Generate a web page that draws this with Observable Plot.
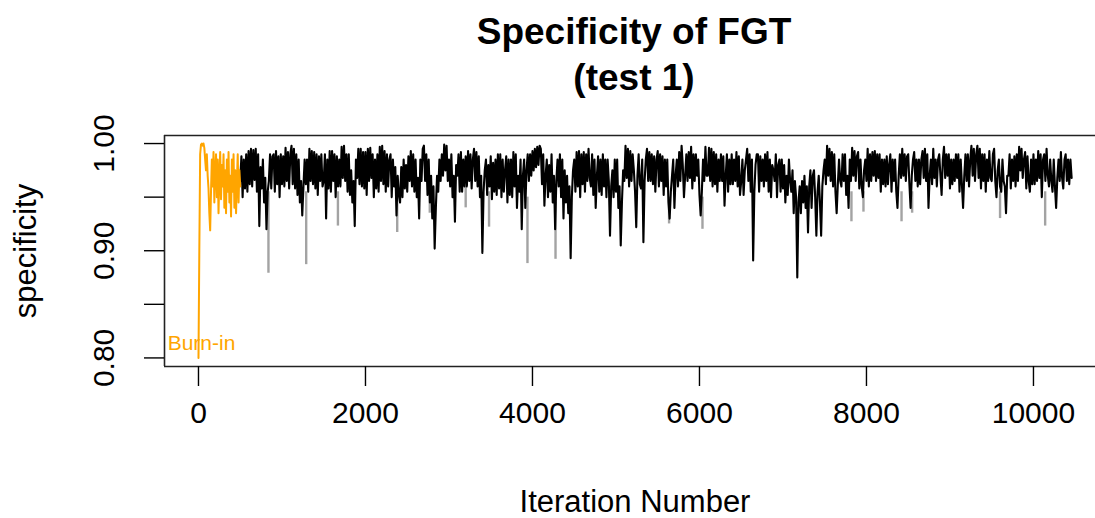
<!DOCTYPE html>
<html><head><meta charset="utf-8">
<script src="https://cdn.jsdelivr.net/npm/d3@7"></script>
<script src="https://cdn.jsdelivr.net/npm/@observablehq/plot@0.6"></script>
<style>html,body{margin:0;padding:0;background:#fff;overflow:hidden}</style>
</head><body><div id="chart"></div>
<script>
// ---- text ----
const titleLines = ["Specificity of FGT", "(test 1)"];
const xLabel = "Iteration Number";
const yLabel = "specificity";
const burnLabel = "Burn-in";
const burnLabelPos = {iter: 0, value: 0.8136};

// ---- axes ----
const xDomain = [-407, 10743];
const yDomain = [0.792, 1.0075];
const xTicks = [0, 2000, 4000, 6000, 8000, 10000];
const yTicks = [0.80, 0.85, 0.90, 0.95, 1.00];
const yLabelTicks = [0.80, 0.90, 1.00];

// ---- burn-in trace (iterations 0..500, every 10) ----
const burnStep = 10;
const burnValues = [
 .800,.900,.990,.999,1.000,.998,1.000,.996,.985,.975,
 .990,.970,.958,.935,.919,.955,.985,.960,.992,.945,
 .975,.990,.950,.985,.935,.970,.992,.948,.980,.960,
 .990,.940,.975,.935,.985,.955,.992,.945,.970,.932,
 .985,.955,.990,.940,.975,.935,.965,.990,.945,.975,.960
];

// ---- main trace (from iteration 500, thinned: 14 values per 200 iterations) ----
const traceStart = 500;
const traceStep = 200 / 14;
const traceValues = [
 .965,.988,.950,.985,.958,.990,.955,.993,.962,.995,.960,.994,.966,.995,
 .955,.990,.923,.978,.958,.985,.945,.968,.920,.955,.965,.990,.958,.988,
 .990,.955,.993,.962,.988,.950,.990,.962,.988,.960,.996,.965,.992,.958,
 .990,.998,.962,.995,.958,.990,.952,.985,.945,.965,.933,.960,.985,.962,
 .985,.955,.995,.965,.993,.962,.992,.958,.990,.952,.988,.965,.990,.960,
 .965,.990,.930,.985,.958,.993,.955,.993,.965,.990,.950,.988,.960,.985,
 .960,.997,.968,.998,.965,.990,.955,.990,.952,.975,.945,.965,.923,.985,
 .968,.995,.962,.995,.960,.992,.958,.992,.952,.995,.965,.996,.968,.990,
 .950,.985,.958,.990,.955,.997,.965,.998,.962,.993,.955,.990,.960,.985,
 .990,.950,.985,.960,.978,.933,.970,.952,.945,.978,.950,.985,.958,.980,
 .955,.988,.965,.993,.960,.990,.955,.985,.950,.968,.930,.985,.965,.995,
 .998,.965,.990,.952,.985,.945,.970,.930,.960,.902,.940,.970,.955,.985,
 .965,.990,.970,.999,.975,.998,.965,.985,.960,.990,.950,.970,.927,.980,
 .970,.990,.955,.992,.955,.985,.960,.988,.960,.993,.965,.990,.958,.985,
 .995,.965,.992,.960,.988,.950,.970,.898,.955,.975,.985,.952,.980,.960,
 .988,.948,.982,.955,.985,.952,.990,.958,.990,.950,.985,.955,.975,.988,
 .945,.985,.952,.985,.950,.992,.960,.990,.940,.970,.955,.985,.920,.970,
 .985,.940,.975,.990,.965,.990,.970,.993,.975,.995,.978,.997,.980,.998,
 .995,.962,.990,.942,.970,.985,.950,.980,.955,.990,.945,.970,.920,.965,
 .985,.960,.990,.950,.985,.930,.975,.945,.970,.935,.960,.893,.950,.975,
 .985,.955,.992,.960,.993,.950,.990,.962,.992,.955,.990,.965,.995,.968,
 .960,.990,.952,.985,.940,.970,.988,.955,.985,.952,.990,.960,.985,.950,
 .985,.965,.914,.960,.975,.950,.985,.955,.985,.940,.960,.905,.945,.975,
 .965,.998,.968,.995,.960,.993,.965,.990,.975,.955,.922,.970,.990,.962,
 .958,.985,.908,.965,.985,.995,.965,.992,.965,.990,.962,.988,.955,.985,
 .993,.960,.990,.965,.988,.952,.985,.960,.985,.945,.930,.955,.970,.985,
 .940,.970,.985,.960,.992,.965,.998,.980,.950,.970,.990,.965,.992,.968,
 .997,.958,.990,.965,.990,.970,.985,.952,.933,.955,.985,.965,.997,.970,
 .970,.996,.965,.995,.960,.992,.962,.990,.955,.985,.965,.990,.965,.988,
 .942,.970,.990,.955,.985,.962,.990,.962,.985,.965,.992,.960,.988,.952,
 .965,.985,.952,.975,.985,.995,.965,.990,.955,.985,.891,.955,.980,.990,
 .990,.955,.988,.965,.985,.960,.990,.965,.992,.955,.985,.950,.980,.975,
 .965,.990,.950,.980,.985,.955,.985,.958,.980,.945,.970,.952,.985,.965,
 .955,.975,.935,.965,.950,.875,.945,.960,.935,.965,.945,.970,.940,.960,
 .917,.960,.975,.940,.970,.975,.950,.914,.955,.970,.945,.914,.960,.975,
 .985,.962,.998,.970,.995,.965,.992,.960,.990,.955,.935,.962,.985,.965,
 .960,.990,.965,.990,.952,.970,.940,.985,.965,.996,.970,.993,.965,.988,
 .992,.958,.985,.960,.950,.975,.985,.965,.995,.960,.990,.965,.992,.970,
 .993,.965,.990,.968,.990,.955,.985,.962,.985,.960,.988,.962,.980,.990,
 .955,.985,.965,.985,.955,.940,.970,.990,.968,.995,.970,.990,.965,.988,
 .990,.962,.940,.970,.985,.992,.965,.985,.960,.985,.962,.985,.993,.968,
 .995,.965,.990,.940,.970,.985,.962,.995,.968,.985,.960,.985,.990,.970,
 .952,.985,.997,.968,.990,.970,.990,.958,.985,.962,.985,.965,.990,.968,
 .990,.955,.985,.962,.940,.970,.990,.965,.990,.960,.985,.998,.970,.995,
 .965,.990,.998,.968,.995,.958,.990,.965,.990,.955,.985,.965,.993,.968,
 .965,.990,.995,.965,.950,.975,.985,.960,.955,.985,.965,.960,.935,.970,
 .970,.990,.958,.985,.965,.988,.960,.990,.965,.997,.975,.995,.968,.985,
 .992,.958,.988,.965,.955,.985,.962,.990,.962,.985,.965,.993,.968,.990,
 .950,.985,.990,.965,.995,.970,.960,.985,.965,.955,.985,.960,.940,.968,
 .985,.965,.992,.968,.958,.985,.990,.965,.985,.962,.985,.968
];

// ---- second (grey) trace: its visible excursions below the black band ----
const greyIter = [838, 1290, 1670, 2380, 2770, 3200, 3480, 3940, 4276, 5636, 6036, 7820, 7964, 8420, 8547, 9600, 10140];
const greyLow  = [.879, .887, .923, .917, .935, .940, .922, .888, .892, .925, .920, .927, .936, .927, .935, .930, .923];
const greyTop  = [.955, .955, .955, .950, .955, .960, .955, .950, .945, .950, .950, .955, .955, .955, .955, .955, .955];

// ---- build tables ----
const burn = burnValues.map((v, i) => ({iter: i * burnStep, value: v}));
const trace = traceValues.map((v, i) => ({iter: traceStart + i * traceStep, value: v}));
const grey = greyIter.map((it, i) => ({iter: it, low: greyLow[i], top: greyTop[i]}));

const FONT = "'Liberation Sans', Arial, Helvetica, sans-serif";

const chart = Plot.plot({
  width: 1095,
  height: 518,
  marginTop: 135,
  marginBottom: 152,
  marginLeft: 164,
  marginRight: 0,
  style: {fontFamily: FONT, fontSize: "30px", color: "#000", background: "#fff"},
  x: {domain: xDomain, label: null},
  y: {domain: yDomain, label: null},
  marks: [
    Plot.ruleX(grey, {x: "iter", y1: "low", y2: "top", stroke: "#a3a3a3", strokeWidth: 2.4}),
    Plot.line(trace, {x: "iter", y: "value", stroke: "#000", strokeWidth: 2.1}),
    Plot.line(burn, {x: "iter", y: "value", stroke: "#FFA500", strokeWidth: 2}),
    Plot.text([burnLabel], {x: () => burnLabelPos.iter, y: () => burnLabelPos.value, text: d => d,
      fill: "#FFA500", fontSize: 21, textAnchor: "middle", lineAnchor: "middle", dx: 3}),
    // box (top, left, bottom)
    Plot.ruleY([yDomain[1]], {stroke: "#222", strokeWidth: 1.6}),
    Plot.ruleY([yDomain[0]], {stroke: "#222", strokeWidth: 1.6}),
    Plot.ruleX([xDomain[0]], {stroke: "#222", strokeWidth: 1.6}),
    Plot.axisX({ticks: xTicks, tickSize: 20, tickPadding: 15, fontSize: 30, strokeWidth: 1.4, label: null, tickFormat: d => String(d)}),
    Plot.axisY({ticks: yTicks, tickSize: 20, strokeWidth: 1.4, label: null, tickFormat: () => ""}),
    Plot.text(yLabelTicks, {y: d => d, text: d => d.toFixed(2), frameAnchor: "left", textAnchor: "middle", lineAnchor: "middle", dx: -60, rotate: -90, fontSize: 30}),
    Plot.text([yLabel], {frameAnchor: "left", textAnchor: "middle", lineAnchor: "middle", dx: -138, rotate: -90, fontSize: 31, text: d => d}),
    Plot.text([xLabel], {frameAnchor: "bottom", textAnchor: "middle", lineAnchor: "middle", dy: 136, dx: 5, fontSize: 31, text: d => d}),
    Plot.text([titleLines[0]], {frameAnchor: "top", textAnchor: "middle", lineAnchor: "middle", dy: -103, dx: 4, fontSize: 37, fontWeight: "bold", text: d => d}),
    Plot.text([titleLines[1]], {frameAnchor: "top", textAnchor: "middle", lineAnchor: "middle", dy: -57, dx: 4, fontSize: 37, fontWeight: "bold", text: d => d})
  ]
});
document.getElementById("chart").appendChild(chart);
</script>
</body></html>
